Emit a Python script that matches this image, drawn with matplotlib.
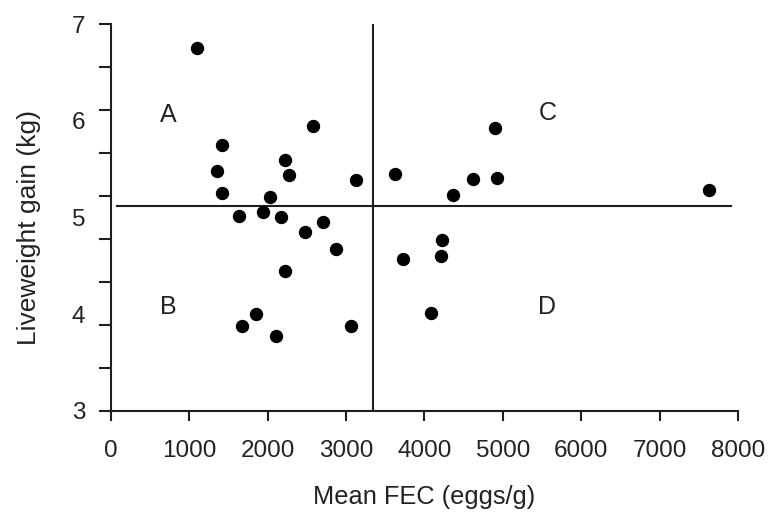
import numpy as np
import matplotlib
matplotlib.use('Agg')
import matplotlib.pyplot as plt

# mean faecal egg count vs liveweight gain
fec = [1103, 2583, 1422, 2222, 1351, 2277, 3124, 1422, 2031,
       1639, 1938, 2167, 2477, 2703, 2869, 2222, 1852, 1673, 2103, 3064,
       4901, 3625, 4616, 4922, 4369, 4221, 4212, 3723, 4080, 7626]
gain = [6.75, 5.95, 5.75, 5.59, 5.48, 5.44, 5.39, 5.25, 5.21,
        5.02, 5.06, 5.01, 4.85, 4.95, 4.67, 4.45, 4.00, 3.88, 3.77, 3.88,
        5.92, 5.45, 5.40, 5.41, 5.23, 4.77, 4.60, 4.57, 4.01, 5.28]

# quadrant dividers
split_fec = 3340
split_gain = 5.12
hline_x = [80, 7910]

quad_labels = ['A', 'B', 'C', 'D']
quad_x = [730, 730, 5570, 5570]
quad_y = [6.06, 4.08, 6.08, 4.08]

xticks = list(range(0, 8001, 1000))
yticks = [3, 4, 5, 6, 7]

plt.rcParams['font.family'] = ['Liberation Sans', 'DejaVu Sans']
ink = '#1e1e1e'
txt = '#222222'

fig = plt.figure(figsize=(7.69, 5.12), dpi=100)
ax = fig.add_axes([0.1441, 0.1973, 0.8156, 0.7558])

ax.plot(fec, gain, 'o', color='black', markersize=8.6, zorder=3)
ax.plot(hline_x, [split_gain, split_gain], '-', color=ink, lw=1.5)
ax.plot([split_fec, split_fec], [3, 7], '-', color=ink, lw=1.5)

for lab, qx, qy in zip(quad_labels, quad_x, quad_y):
    ax.text(qx, qy, lab, fontsize=18, ha='center', va='center', color=txt)

ax.set_xlim(0, 8000)
ax.set_ylim(3, 7)
for s in ['top', 'right']:
    ax.spines[s].set_visible(False)
for s in ['left', 'bottom']:
    ax.spines[s].set_linewidth(1.5)
    ax.spines[s].set_color(ink)

ax.set_xticks(xticks)
ax.set_xticklabels([str(t) for t in xticks])
ax.tick_params(axis='x', length=7.2, width=1.5, color=ink, pad=13.5,
               labelsize=17.5, labelcolor=txt)

# y labels sit at whole numbers, tick marks are spaced separately
ax.set_yticks(yticks)
ax.set_yticklabels([str(t) for t in yticks])
ax.set_yticks(np.linspace(3, 7, 10), minor=True)
ax.yaxis.remove_overlapping_locs = False
ax.tick_params(axis='y', which='major', length=0, pad=18.5,
               labelsize=17.5, labelcolor=txt)
ax.tick_params(axis='y', which='minor', length=8.3, width=1.5, color=ink)

ax.set_xlabel('Mean FEC (eggs/g)', fontsize=18.3, color=txt)
ax.set_ylabel('Liveweight gain (kg)', fontsize=19, color=txt)
ax.xaxis.set_label_coords(0.5, -0.19)
ax.yaxis.set_label_coords(-0.112, 0.473)

fig.savefig('out.png', dpi=100)
